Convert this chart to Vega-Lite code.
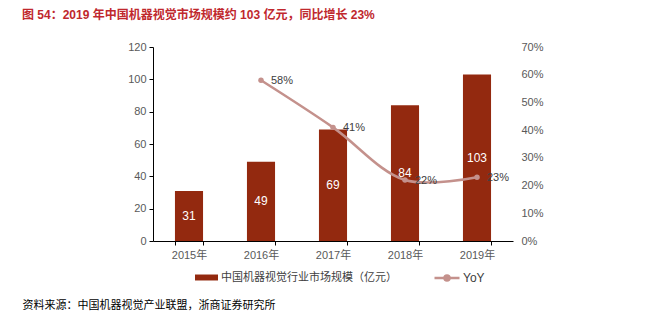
{
  "$schema": "https://vega.github.io/schema/vega-lite/v6.json",
  "width": 360,
  "height": 194,
  "autosize": {"type": "none"},
  "padding": {"left": 153, "top": 47, "right": 132, "bottom": 90},
  "background": "white",
  "config": {
    "view": {"stroke": null},
    "font": "Liberation Sans, Noto Sans CJK SC",
    "axis": {"labelFont": "Liberation Sans, Noto Sans CJK SC", "labelFontSize": 11, "labelColor": "#595959", "grid": false}
  },
  "title": {
    "text": "图 54：2019 年中国机器视觉市场规模约 103 亿元，同比增长 23%",
    "anchor": "start",
    "frame": "group",
    "dx": -131,
    "offset": 14,
    "font": "Liberation Sans, Noto Sans CJK SC",
    "fontSize": 12,
    "fontWeight": "bold",
    "color": "#c0282d",
    "baseline": "middle"
  },
  "data": {
    "values": [
      {"year": "2015年", "value": 31, "yoy": null},
      {"year": "2016年", "value": 49, "yoy": 0.58},
      {"year": "2017年", "value": 69, "yoy": 0.41},
      {"year": "2018年", "value": 84, "yoy": 0.22},
      {"year": "2019年", "value": 103, "yoy": 0.23}
    ]
  },
  "encoding": {
    "x": {
      "field": "year",
      "type": "nominal",
      "sort": null,
      "scale": {"paddingInner": 0.61, "paddingOuter": 0.305},
      "axis": {
        "labelAngle": 0,
        "domainColor": "#000000",
        "tickColor": "#000000",
        "tickBand": "extent",
        "tickSize": 4,
        "labelPadding": 4,
        "title": "资料来源：中国机器视觉产业联盟，浙商证券研究所",
        "titleFont": "Noto Sans CJK SC",
        "titleFontSize": 11,
        "titleFontWeight": "normal",
        "titleColor": "#000000",
        "titleX": -131,
        "titleY": 64,
        "titleAlign": "left",
        "titleAnchor": "start",
        "titleBaseline": "middle"
      }
    }
  },
  "layer": [
    {
      "mark": {"type": "bar", "color": "#93290f"},
      "encoding": {
        "y": {
          "field": "value",
          "type": "quantitative",
          "scale": {"domain": [0, 120]},
          "axis": {
            "orient": "left",
            "title": null,
            "values": [0, 20, 40, 60, 80, 100, 120],
            "domainColor": "#000000",
            "tickColor": "#000000",
            "tickSize": 4,
            "labelPadding": 3
          }
        },
        "fill": {
          "datum": "中国机器视觉行业市场规模（亿元）",
          "scale": {"range": ["#93290f"]},
          "legend": {
            "title": null,
            "orient": "none",
            "legendX": 42,
            "legendY": 219,
            "symbolType": "M-1,-0.26H1V0.26H-1Z",
            "symbolSize": 529,
            "symbolStrokeWidth": 0,
            "labelFont": "Noto Sans CJK SC",
            "labelFontSize": 11,
            "labelColor": "#404040",
            "labelOffset": 3,
            "labelLimit": 400
          }
        }
      }
    },
    {
      "mark": {"type": "text", "color": "white", "fontSize": 12, "font": "Liberation Sans", "baseline": "middle"},
      "encoding": {
        "y": {"field": "value", "type": "quantitative", "scale": {"domain": [0, 240]}, "axis": null},
        "text": {"field": "value", "type": "quantitative"}
      }
    },
    {
      "mark": {"type": "line", "interpolate": "catmull-rom", "strokeWidth": 2.5},
      "encoding": {
        "y": {
          "field": "yoy",
          "type": "quantitative",
          "scale": {"domain": [0, 0.7]},
          "axis": {
            "orient": "right",
            "title": null,
            "format": ".0%",
            "values": [0, 0.1, 0.2, 0.3, 0.4, 0.5, 0.6, 0.7],
            "domain": false,
            "ticks": false,
            "labelPadding": 8
          }
        },
        "stroke": {
          "datum": "YoY",
          "scale": {"range": ["#c4918c"]},
          "legend": {
            "title": null,
            "orient": "none",
            "legendX": 280,
            "legendY": 217,
            "symbolType": "M-1,0H1M0.2,0A0.2,0.2,0,1,1,-0.2,0A0.2,0.2,0,1,1,0.2,0Z",
            "symbolSize": 625,
            "symbolStrokeWidth": 2.5,
            "symbolFillColor": "#c4918c",
            "labelFont": "Liberation Sans",
            "labelFontSize": 12,
            "labelColor": "#404040",
            "labelOffset": 2
          }
        }
      }
    },
    {
      "mark": {"type": "point", "filled": true, "color": "#c4918c", "size": 30, "opacity": 1},
      "encoding": {
        "y": {"field": "yoy", "type": "quantitative", "scale": {"domain": [0, 0.7]}, "axis": null}
      }
    },
    {
      "mark": {"type": "text", "align": "left", "baseline": "middle", "dx": 10, "dy": 1, "fontSize": 11, "font": "Liberation Sans", "color": "#404040"},
      "encoding": {
        "y": {"field": "yoy", "type": "quantitative", "scale": {"domain": [0, 0.7]}, "axis": null},
        "text": {"field": "yoy", "type": "quantitative", "format": ".0%"}
      }
    }
  ],
  "resolve": {"scale": {"y": "independent", "fill": "independent", "stroke": "independent"}}
}
